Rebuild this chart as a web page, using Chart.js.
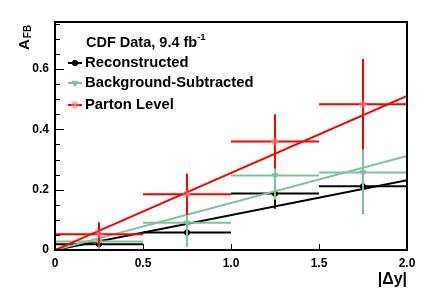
<!DOCTYPE html>
<html>
<head>
<meta charset="utf-8">
<script src="https://cdn.jsdelivr.net/npm/chart.js@4/dist/chart.umd.min.js"></script>
<style>
  html, body { margin: 0; padding: 0; background: #fff; }
  #wrap { width: 429px; height: 291px; }
</style>
</head>
<body>
<div id="wrap"><canvas id="afb" width="429" height="291"></canvas></div>
<script>
// Bin centres and half widths in |dy|
const binCenters = [0.25, 0.75, 1.25, 1.75];
const binHalfWidths = [0.25, 0.25, 0.25, 0.25];

// A_FB per bin
const recoValues = [0.019, 0.058, 0.187, 0.211];
const recoErrors = [0.02, 0.04, 0.05, 0.09];
const bkgSubValues = [0.028, 0.090, 0.247, 0.257];
const bkgSubErrors = [0.03, 0.08, 0.08, 0.135];
const partonValues = [0.052, 0.185, 0.360, 0.483];
const partonErrors = [0.04, 0.068, 0.09, 0.15];

// Linear fits (end points at |dy| = 0 and 2)
const fitX = [0, 2];
const recoFit = [0, 0.231];
const bkgSubFit = [0, 0.312];
const partonFit = [0, 0.511];

// Axis ticks
const xTickValues = [0, 0.5, 1, 1.5, 2];
const yTickValues = [0, 0.2, 0.4, 0.6];

const BLACK = '#000000';
const GREEN = '#7dc29a';
const RED = '#ff0000';

const FONT = '"Liberation Sans", Arial, Helvetica, sans-serif';

function points(xs, ys) {
    return xs.map((x, i) => ({ x: x, y: ys[i] }));
}

function fitDataset(ys, color, order) {
    return {
        type: 'line',
        data: points(fitX, ys),
        borderColor: color,
        borderWidth: 2,
        pointRadius: 0,
        fill: false,
        order: order
    };
}

function pointDataset(ys, errs, color, style, order) {
    let ds = {
        type: 'scatter',
        data: points(binCenters, ys),
        errors: errs,
        barColor: color,
        backgroundColor: style.fill,
        borderColor: style.border,
        borderWidth: 1,
        pointStyle: style.shape,
        pointRadius: style.radius,
        rotation: style.rotation || 0,
        order: order
    };
    return ds;
}

const styles = {
    reco: { shape: 'circle', radius: 2.7, fill: BLACK, border: BLACK },
    bkg: { shape: 'triangle', radius: 3.5, fill: GREEN, border: GREEN, rotation: 180 },
    parton: { shape: 'star', radius: 4, fill: '#ff8080', border: '#ff7070' }
};

// Error bars, drawn just before each point dataset
const errorBars = {
    id: 'errorBars',
    beforeDatasetDraw(chart, args) {
        let ds = chart.data.datasets[args.index];
        if (!ds.errors) return;
        let xs = chart.scales.x, ys = chart.scales.y;
        let ctx = chart.ctx;
        ctx.save();
        ctx.strokeStyle = ds.barColor;
        ctx.lineWidth = 2;
        ds.data.forEach((p, i) => {
            let px = xs.getPixelForValue(p.x);
            let py = ys.getPixelForValue(p.y);
            let x1 = xs.getPixelForValue(p.x - binHalfWidths[i]);
            let x2 = xs.getPixelForValue(p.x + binHalfWidths[i]);
            let y1 = ys.getPixelForValue(Math.max(p.y - ds.errors[i], ys.min));
            let y2 = ys.getPixelForValue(p.y + ds.errors[i]);
            ctx.beginPath();
            ctx.moveTo(x1, py);
            ctx.lineTo(x2, py);
            ctx.moveTo(px, y1);
            ctx.lineTo(px, y2);
            ctx.stroke();
        });
        ctx.restore();
    }
};

// Frame, inner ticks, axis titles and the legend box
const decorations = {
    id: 'decorations',
    afterDraw(chart) {
        let ctx = chart.ctx;
        let a = chart.chartArea;
        let xs = chart.scales.x, ys = chart.scales.y;
        ctx.save();

        // ticks pointing into the frame
        ctx.strokeStyle = BLACK;
        ctx.lineWidth = 1;
        ctx.beginPath();
        for (let v = 0; v <= ys.max + 1e-9; v += 0.05) {
            let py = Math.round(ys.getPixelForValue(v)) + 0.5;
            let major = Math.abs(v / 0.2 - Math.round(v / 0.2)) < 1e-6;
            ctx.moveTo(a.left, py);
            ctx.lineTo(a.left + (major ? 9 : 5), py);
        }
        xTickValues.forEach((v) => {
            let px = Math.round(xs.getPixelForValue(v)) + 0.5;
            ctx.moveTo(px, a.bottom);
            ctx.lineTo(px, a.bottom - 6);
        });
        ctx.stroke();

        // frame
        ctx.lineWidth = 2;
        ctx.strokeRect(a.left, a.top, a.right - a.left, a.bottom - a.top);

        ctx.fillStyle = BLACK;

        // x title
        ctx.font = 'bold 16px ' + FONT;
        ctx.textAlign = 'right';
        ctx.textBaseline = 'alphabetic';
        ctx.fillText('|\u0394y|', a.right, 284);

        // y title A_FB (rotated)
        ctx.save();
        ctx.translate(29, 50);
        ctx.rotate(-Math.PI / 2);
        ctx.textAlign = 'left';
        ctx.font = 'bold 15px ' + FONT;
        ctx.fillText('A', 0, 0);
        let aw = ctx.measureText('A').width;
        ctx.font = 'bold 10px ' + FONT;
        ctx.fillText('FB', aw + 1, 2);
        ctx.restore();

        // legend
        ctx.textAlign = 'left';
        ctx.textBaseline = 'middle';
        ctx.font = 'bold 14.5px ' + FONT;
        let head = 'CDF Data, 9.4 fb';
        ctx.fillText(head, 86, 43);
        let hw = ctx.measureText(head).width;
        ctx.font = 'bold 9.5px ' + FONT;
        ctx.fillText('-1', 86 + hw, 37);

        let entries = [
            { label: 'Reconstructed', color: BLACK, style: styles.reco, y: 63 },
            { label: 'Background-Subtracted', color: GREEN, style: styles.bkg, y: 83 },
            { label: 'Parton Level', color: RED, style: styles.parton, y: 105 }
        ];
        entries.forEach((e) => {
            ctx.strokeStyle = e.color;
            ctx.lineWidth = 2;
            ctx.beginPath();
            ctx.moveTo(68, e.y);
            ctx.lineTo(82, e.y);
            ctx.stroke();
            ctx.fillStyle = e.style.fill;
            ctx.strokeStyle = e.style.border;
            ctx.lineWidth = 1;
            Chart.helpers.drawPoint(ctx, {
                pointStyle: e.style.shape,
                radius: e.style.radius,
                rotation: e.style.rotation || 0,
                borderWidth: 1
            }, 75, e.y);
            ctx.fillStyle = BLACK;
            ctx.font = 'bold 14.8px ' + FONT;
            ctx.fillText(e.label, 85, e.y);
        });
        ctx.restore();
    }
};

document.addEventListener('DOMContentLoaded', () => {
    let el = document.getElementById('afb');
    new Chart(el, {
        type: 'scatter',
        data: {
            datasets: [
                pointDataset(partonValues, partonErrors, RED, styles.parton, 1),
                fitDataset(partonFit, RED, 2),
                pointDataset(bkgSubValues, bkgSubErrors, GREEN, styles.bkg, 3),
                fitDataset(bkgSubFit, GREEN, 4),
                pointDataset(recoValues, recoErrors, BLACK, styles.reco, 5),
                fitDataset(recoFit, BLACK, 6)
            ]
        },
        options: {
            responsive: false,
            animation: false,
            devicePixelRatio: 1,
            layout: { padding: { top: 22, right: 22, left: 0, bottom: 0 } },
            plugins: {
                legend: { display: false },
                tooltip: { enabled: false }
            },
            scales: {
                x: {
                    type: 'linear',
                    min: 0,
                    max: 2,
                    grid: { display: false, drawTicks: false },
                    border: { display: false },
                    afterBuildTicks: (scale) => { scale.ticks = xTickValues.map((v) => ({ value: v })); },
                    afterFit: (scale) => { scale.height = 41; },
                    ticks: {
                        padding: 6,
                        color: BLACK,
                        maxRotation: 0,
                        font: { family: FONT, size: 12, weight: 'bold' }
                    }
                },
                y: {
                    type: 'linear',
                    min: 0,
                    max: 0.756,
                    grid: { display: false, drawTicks: false },
                    border: { display: false },
                    afterBuildTicks: (scale) => { scale.ticks = yTickValues.map((v) => ({ value: v })); },
                    afterFit: (scale) => { scale.width = 55; },
                    ticks: {
                        padding: 6,
                        color: BLACK,
                        font: { family: FONT, size: 12, weight: 'bold' }
                    }
                }
            }
        },
        plugins: [errorBars, decorations]
    });
});
</script>
</body>
</html>
